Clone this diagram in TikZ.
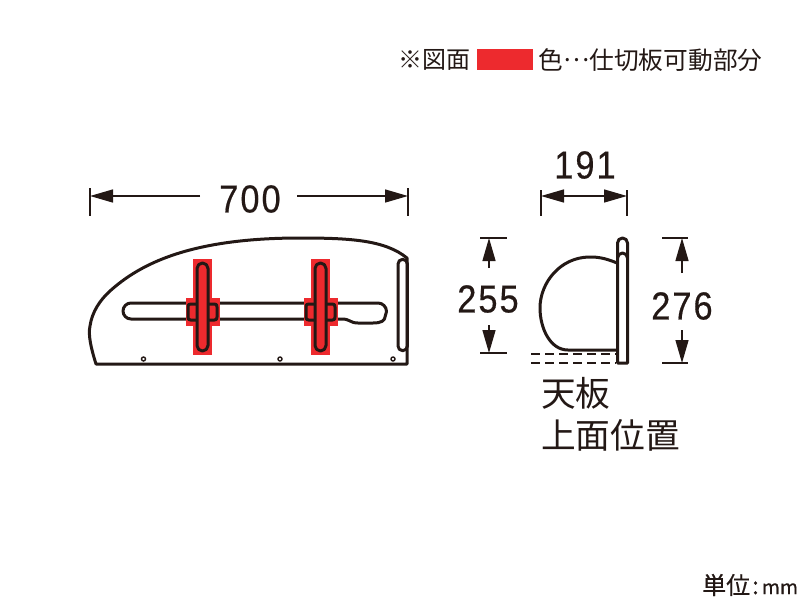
\documentclass[tikz,border=0pt]{standalone}
\usepackage{fontspec}
\setmainfont{Liberation Sans}
\newfontfamily\jpfont{Noto Sans CJK JP}
\usetikzlibrary{arrows.meta}
\definecolor{inkcol}{HTML}{231815}
\definecolor{movered}{HTML}{ED2A2E}
\newcommand{\dimnum}[1]{\scalebox{.88}[1]{\addfontfeature{LetterSpace=6,FakeBold=0.5}#1}}
\tikzset{
	part/.style={draw=inkcol,line width=3pt,line join=round,line cap=round},
	thin part/.style={draw=inkcol,line width=1.4pt},
	dimline/.style={draw=inkcol,line width=1.4pt,-{Triangle[length=23pt,width=13pt]}},
	tickline/.style={draw=inkcol,line width=1.4pt},
	dimtext/.style={text=inkcol,font=\fontsize{39}{39}\selectfont,inner sep=0pt},
	jptext/.style={text=inkcol,font=\jpfont\fontsize{24}{24}\selectfont,inner sep=0pt,anchor=west},
	bigjp/.style={text=inkcol,font=\jpfont\fontsize{34.7}{34.7}\selectfont,inner sep=0pt,anchor=west},
}
\begin{document}
\begin{tikzpicture}[x=1pt,y=-1pt]
	\useasboundingbox (0,0) rectangle (800,600);
	\pgfmathsetmacro{\yFoot}{364};
%
	% legend
	\node[jptext] (legendA) at (398,60) {※図面};
	\node[fill=movered,minimum width=56pt,minimum height=21pt,inner sep=0pt] (swatch) at (505,59.5) {};
	\node[jptext,font=\jpfont\fontsize{24.7}{24.7}\selectfont] (legendB) at (538.5,60) {色\raisebox{8pt}{…}仕切板可動部分};
%
	% front view
	\draw[part] (96,\yFoot) .. controls (91,348) and (88,335) .. (90,326) .. controls (92,312) and (100,300) .. (110,291)
		.. controls (140,264) and (190,238) .. (300,238) .. controls (350,238) and (385,240) .. (407,258) -- (407,\yFoot) -- cycle;
	\draw[part] (398,264) arc (180:360:4.7) -- (407.4,346) arc (0:180:4.7) -- cycle;
	\draw[part] (131,303) -- (378,303) arc (270:390:8.5) .. controls (385,321) and (381,323) .. (373,323)
		-- (358,323) .. controls (350,323) and (350,319) .. (342,319) -- (131,319) arc (90:270:8) -- cycle;
	\foreach \xHole in {143.5,280,393}{
		\draw[thin part,fill=white] (\xHole,359) circle (2pt);
	}
%
	\foreach \xMid in {202.5,320.5}{
		\begin{scope}[shift={(\xMid,0)}]
			\fill[movered] (-9.5,259) rectangle (9.5,355);
			\fill[movered] (-17,298) rectangle (17,326);
			\draw[part] (-5.5,304) -- (-12,304) .. controls (-14,304) and (-14.5,305) .. (-14.5,307) -- (-14.5,317) .. controls (-14.5,319) and (-14,320) .. (-12,320) -- (-5.5,320);
			\draw[part] (5.5,304) -- (12,304) .. controls (14,304) and (14.5,305) .. (14.5,307) -- (14.5,317) .. controls (14.5,319) and (14,320) .. (12,320) -- (5.5,320);
			\draw[part,fill=movered] (-5.5,268.5) arc (180:360:5.5) -- (5.5,345.5) arc (0:180:5.5) -- cycle;
		\end{scope}
	}
%
	% side view
	\draw[part] (617,263) .. controls (605,258) and (598,257) .. (590,257) .. controls (560,257) and (540,283) .. (540,308)
		.. controls (540,328) and (550,350) .. (568,350) -- (617,350);
	\draw[part] (617.5,363) -- (617.5,243) arc (180:360:5) -- (627.5,363) -- cycle;
	\draw[part] (617.5,258) arc (180:360:5);
	\draw[tickline,dashed,dash pattern=on 9pt off 5pt] (531,354) -- (616,354);
	\draw[tickline,dashed,dash pattern=on 9pt off 5pt] (531,363) -- (616,363);
%
	% 700
	\coordinate (w700a) at (200,196);
	\coordinate (w700b) at (297,196);
	\coordinate (w700l) at (90,196);
	\coordinate (w700r) at (408,196);
	\draw[tickline] (90,188) -- (90,216);
	\draw[tickline] (408,188) -- (408,216);
	\draw[dimline] (w700a) -- (w700l);
	\draw[dimline] (w700b) -- (w700r);
	\node[dimtext] (dim700) at (250,199) {\dimnum{700}};
%
	% 191
	\coordinate (w191a) at (585,196);
	\coordinate (w191l) at (541,196);
	\coordinate (w191r) at (627,196);
	\draw[tickline] (541,190) -- (541,216);
	\draw[tickline] (627,190) -- (627,216);
	\draw[dimline] (w191a) -- (w191l);
	\draw[dimline] (w191a) -- (w191r);
	\node[dimtext] (dim191) at (585,165) {\dimnum{191}};
%
	% 255
	\coordinate (h255a) at (489,268);
	\coordinate (h255b) at (489,325);
	\coordinate (h255t) at (489,238);
	\coordinate (h255e) at (489,353);
	\draw[tickline] (480,238) -- (507,238);
	\draw[tickline] (480,353) -- (507,353);
	\draw[dimline] (h255a) -- (h255t);
	\draw[dimline] (h255b) -- (h255e);
	\node[dimtext] (dim255) at (488,299) {\dimnum{255}};
%
	% 276
	\coordinate (h276a) at (682,273);
	\coordinate (h276b) at (682,330);
	\coordinate (h276t) at (682,238);
	\coordinate (h276e) at (682,363);
	\draw[tickline] (662,238) -- (688,238);
	\draw[tickline] (662,363) -- (688,363);
	\draw[dimline] (h276a) -- (h276t);
	\draw[dimline] (h276b) -- (h276e);
	\node[dimtext] (dim276) at (682,306) {\dimnum{276}};
%
	\node[bigjp] (tenA) at (541,393) {天板};
	\node[bigjp] (tenB) at (541,435) {上面位置};
	\node[jptext,font=\jpfont\addfontfeature{FakeBold=0.4}\fontsize{24}{24}\selectfont] (unit) at (702,585) {単位\hspace{2pt}:\hspace{3pt}\fontsize{19.5}{19.5}\selectfont mm};
\end{tikzpicture}
\end{document}
